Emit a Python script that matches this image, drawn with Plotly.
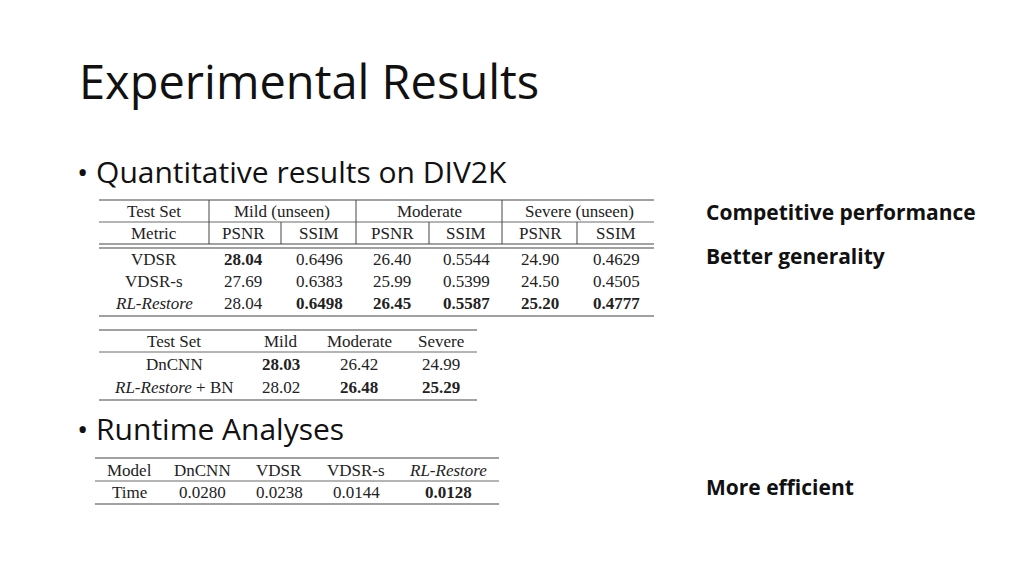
import plotly.graph_objects as go

# ---- data ----
t1_groups = ["Mild (unseen)", "Moderate", "Severe (unseen)"]
t1_metrics = ["PSNR", "SSIM", "PSNR", "SSIM", "PSNR", "SSIM"]
t1_methods = ["VDSR", "VDSR-s", "<i>RL-Restore</i>"]
t1_values = [
    ["28.04", "0.6496", "26.40", "0.5544", "24.90", "0.4629"],
    ["27.69", "0.6383", "25.99", "0.5399", "24.50", "0.4505"],
    ["28.04", "0.6498", "26.45", "0.5587", "25.20", "0.4777"],
]
t1_bold = [[1, 0, 0, 0, 0, 0], [0, 0, 0, 0, 0, 0], [0, 1, 1, 1, 1, 1]]

t2_header = ["Test Set", "Mild", "Moderate", "Severe"]
t2_methods = ["DnCNN", "<i>RL-Restore</i> + BN"]
t2_values = [["28.03", "26.42", "24.99"], ["28.02", "26.48", "25.29"]]
t2_bold = [[1, 0, 0], [0, 1, 1]]

t3_models = ["DnCNN", "VDSR", "VDSR-s", "<i>RL-Restore</i>"]
t3_times = ["0.0280", "0.0238", "0.0144", "0.0128"]
t3_bold = [0, 0, 0, 1]

notes = ["Competitive performance", "Better generality", "More efficient"]

# ---- layout ----
SANS = "Open Sans"
SERIF = "Liberation Serif"
ann = []
shapes = []

def txt(x, y, s, size=17, font=SERIF, anchor="center", bold=False, color="#222"):
    ann.append(dict(x=x, y=y, text=("<b>%s</b>" % s) if bold else s, showarrow=False,
                    xanchor=anchor, yanchor="middle", xref="x", yref="y",
                    font=dict(family=font, size=size, color=color)))

def hline(x0, x1, y, w=1.2):
    shapes.append(dict(type="line", x0=x0, x1=x1, y0=y, y1=y, xref="x", yref="y",
                       line=dict(color="#444", width=w)))

def vline(x, y0, y1):
    shapes.append(dict(type="line", x0=x, x1=x, y0=y0, y1=y1, xref="x", yref="y",
                       line=dict(color="#444", width=1)))

txt(78, 82, "Experimental Results", size=47, font=SANS, anchor="left", color="#111")
txt(76, 172, "• Quantitative results on DIV2K", size=30, font=SANS, anchor="left", color="#111")
txt(76, 429, "• Runtime Analyses", size=30, font=SANS, anchor="left", color="#111")

# table 1
cols = [244, 320, 393, 467, 541, 617]
gx = [283, 430, 580]
txt(155, 212, "Test Set")
txt(155, 234, "Metric")
for g, x in zip(t1_groups, gx):
    txt(x, 212, g)
for m, x in zip(t1_metrics, cols):
    txt(x, 234, m)
rows = [260, 282, 304]
for i, (meth, y) in enumerate(zip(t1_methods, rows)):
    txt(155, y, meth)
    for j, x in enumerate(cols):
        txt(x, y, t1_values[i][j], bold=bool(t1_bold[i][j]))
hline(100, 655, 201)
hline(100, 655, 223, 0.8)
hline(100, 655, 245)
hline(100, 655, 249)
hline(100, 655, 317)
for x in [210, 357, 503]:
    vline(x, 201, 245)
for x in [282, 430, 578]:
    vline(x, 223, 245)

# table 2
c2 = [175, 282, 360, 442]
for h, x in zip(t2_header, c2):
    txt(x, 342, h)
for i, (meth, y) in enumerate(zip(t2_methods, [365, 388])):
    txt(c2[0], y, meth)
    for j in range(3):
        txt(c2[j + 1], y, t2_values[i][j], bold=bool(t2_bold[i][j]))
hline(100, 478, 331)
hline(100, 478, 353, 0.8)
hline(100, 478, 401)

# table 3
c3 = [203, 280, 357, 449]
txt(130, 471, "Model")
txt(130, 493, "Time")
for k, (m, t) in enumerate(zip(t3_models, t3_times)):
    txt(c3[k], 471, m)
    txt(c3[k], 493, t, bold=bool(t3_bold[k]))
hline(96, 500, 459)
hline(96, 500, 482, 0.8)
hline(96, 500, 505)

for s, y in zip(notes, [213, 257, 488]):
    txt(705, y, s, size=21, font=SANS, anchor="left", bold=True, color="#111")

fig = go.Figure()
fig.update_layout(
    width=1024, height=576, margin=dict(l=0, r=0, t=0, b=0),
    paper_bgcolor="white", plot_bgcolor="white", showlegend=False,
    xaxis=dict(range=[9, 1033], visible=False, fixedrange=True),
    yaxis=dict(range=[585, 9], visible=False, fixedrange=True),
    annotations=ann, shapes=shapes,
)
fig.write_html("out.html", config={"displayModeBar": False})
